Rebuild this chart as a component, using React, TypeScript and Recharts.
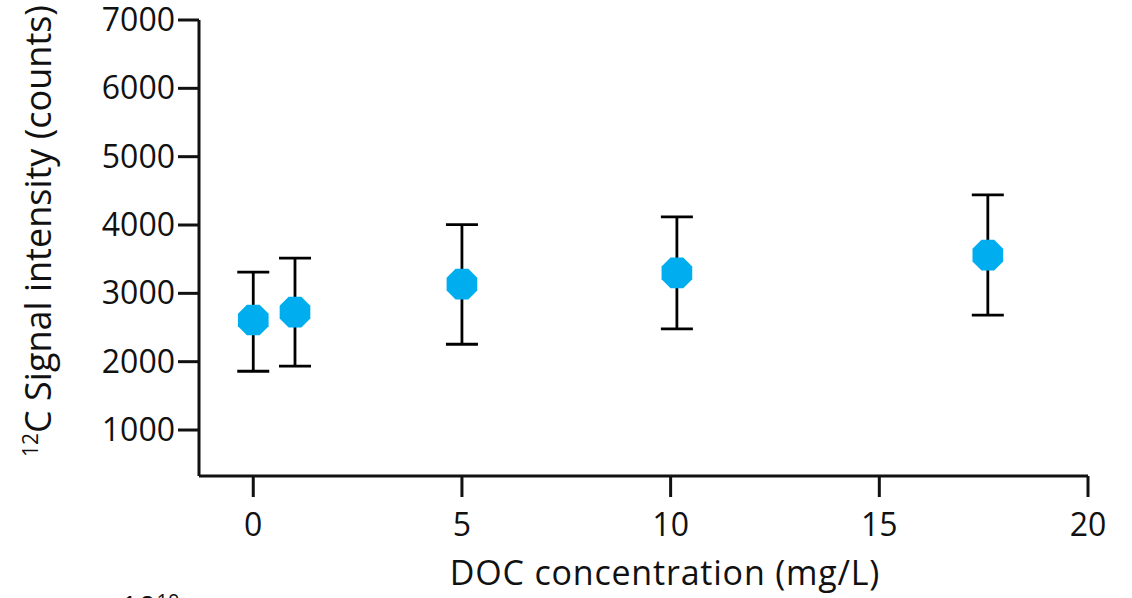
import React from "react";
import { ScatterChart, Scatter, XAxis, YAxis, ErrorBar } from "recharts";

const docConcentration = [0, 1, 5, 10.15, 17.6];
const signalIntensity = [2610, 2725, 3135, 3300, 3560];
const errorLow = [750, 790, 880, 820, 880];
const errorHigh = [700, 790, 870, 820, 880];
const xTicks = [0, 5, 10, 15, 20];
const yTicks = [1000, 2000, 3000, 4000, 5000, 6000, 7000];

const data = docConcentration.map((x, i) => ({
  x,
  y: signalIntensity[i],
  err: [errorLow[i], errorHigh[i]],
}));

const FONT = "'Open Sans', 'Noto Sans', sans-serif";

const Octagon = (props: any) => {
  const { cx, cy } = props;
  if (cx == null || cy == null) return null;
  const r = 16.6;
  const pts: string[] = [];
  for (let k = 0; k < 8; k++) {
    const a = ((22.5 + 45 * k) * Math.PI) / 180;
    pts.push(`${cx + r * Math.cos(a)},${cy + r * Math.sin(a)}`);
  }
  return <polygon points={pts.join(" ")} fill="#00AEEF" />;
};

const XTick = (props: any) => {
  const { x, y, payload } = props;
  return (
    <text x={x} y={y + 37} textAnchor="middle" fontFamily={FONT} fontSize={32} fill="#111">
      {payload.value}
    </text>
  );
};

const YTick = (props: any) => {
  const { x, y, payload } = props;
  return (
    <text x={x - 1} y={y + 11} textAnchor="end" fontFamily={FONT} fontSize={32} fill="#111">
      {payload.value}
    </text>
  );
};

export default function App() {
  return (
    <div style={{ position: "absolute", left: 0, top: 0, width: 1132, height: 598, overflow: "hidden", background: "#fff" }}>
      <ScatterChart
        width={1132}
        height={598}
        margin={{ top: 20, right: 44, bottom: 62, left: 79 }}
      >
        <XAxis
          type="number"
          dataKey="x"
          domain={[-1.3, 20]}
          ticks={xTicks}
          allowDataOverflow
          height={60}
          axisLine={{ stroke: "#111", strokeWidth: 3 }}
          tickLine={{ stroke: "#111", strokeWidth: 3 }}
          tickSize={21}
          tick={<XTick />}
        />
        <YAxis
          type="number"
          dataKey="y"
          domain={[327, 7000]}
          ticks={yTicks}
          allowDataOverflow
          width={120}
          axisLine={{ stroke: "#111", strokeWidth: 3 }}
          tickLine={{ stroke: "#111", strokeWidth: 3 }}
          tickSize={21}
          tick={<YTick />}
        />
        <Scatter data={data} shape={<Octagon />} isAnimationActive={false}>
          <ErrorBar dataKey="err" direction="y" width={16} stroke="#000" strokeWidth={2.8} />
        </Scatter>
        <text x={665} y={585} textAnchor="middle" fontFamily={FONT} fontSize={34} letterSpacing={0.8} fill="#111">
          DOC concentration (mg/L)
        </text>
        <text
          x={51}
          y={231}
          textAnchor="middle"
          fontFamily={FONT}
          fontSize={36}
          fill="#111"
          transform="rotate(-90 51 231)"
        >
          <tspan fontSize={21} dy={-13}>12</tspan>
          <tspan dy={13}>C Signal intensity (counts)</tspan>
        </text>
        <text x={120} y={620} fontFamily={FONT} fontSize={32} fill="#111">
          10<tspan fontSize={20} dy={-12}>10</tspan>
        </text>
      </ScatterChart>
    </div>
  );
}
